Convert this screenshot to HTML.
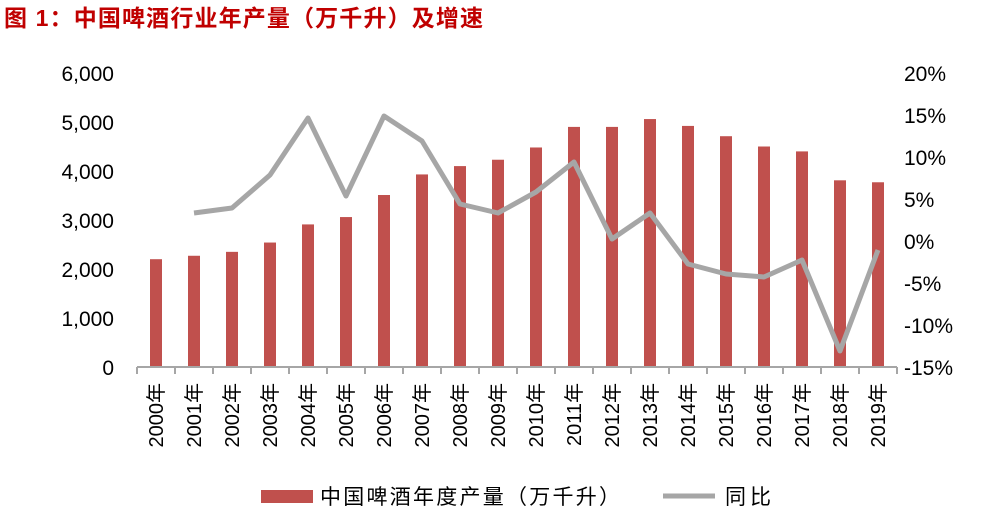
<!DOCTYPE html>
<html><head><meta charset="utf-8"><style>
body{margin:0;background:#fff;width:992px;height:508px;overflow:hidden}
</style></head><body>
<svg width="992" height="508" xmlns="http://www.w3.org/2000/svg" font-family="'Liberation Sans','Noto Sans CJK SC',sans-serif">
<text x="4" y="26" font-size="23" font-weight="bold" fill="#c00000" textLength="479" lengthAdjust="spacing">图  1：中国啤酒行业年产量（万千升）及增速</text>
<g font-size="21" fill="#000" text-anchor="end">
<text x="114" y="81">6,000</text><text x="114" y="130">5,000</text><text x="114" y="179">4,000</text>
<text x="114" y="228">3,000</text><text x="114" y="277">2,000</text><text x="114" y="326">1,000</text><text x="114" y="375">0</text>
</g>
<g font-size="21" fill="#000" text-anchor="start">
<text x="904" y="81">20%</text><text x="904" y="123">15%</text><text x="904" y="165">10%</text>
<text x="904" y="207">5%</text><text x="904" y="249">0%</text><text x="904" y="291">-5%</text>
<text x="904" y="333">-10%</text><text x="904" y="375">-15%</text>
</g>
<g id="bars" fill="#c0504d"></g>
<line x1="137" y1="367" x2="897" y2="367" stroke="#a6a6a6" stroke-width="2"/>
<g id="ticks" stroke="#a6a6a6" stroke-width="2"></g>
<polyline id="ln" fill="none" stroke="#a6a6a6" stroke-width="5" stroke-linejoin="round"/>
<g id="lbl" font-size="20" fill="#000"></g>
<rect x="261" y="490" width="52" height="13" fill="#c0504d"/>
<text x="320" y="504" font-size="21" textLength="300" lengthAdjust="spacing">中国啤酒年度产量（万千升）</text>
<line x1="663" y1="496" x2="715" y2="496" stroke="#a6a6a6" stroke-width="5"/>
<text x="725" y="504" font-size="21" textLength="46" lengthAdjust="spacing">同比</text>
<script>
var v=[2200,2270,2350,2540,2910,3060,3510,3930,4100,4230,4480,4900,4900,5060,4920,4710,4500,4400,3810,3770];
var ly=[null,213,208,175,118,196,116,141,204,213,192,162,239,213,264,274,277,260,351,250];
var ns="http://www.w3.org/2000/svg",b=document.getElementById('bars'),t=document.getElementById('ticks'),l=document.getElementById('lbl'),pts=[];
for(var i=0;i<20;i++){var cx=137+19+38*i;var h=v[i]*0.049;
var r=document.createElementNS(ns,'rect');r.setAttribute('x',cx-6);r.setAttribute('y',367-h);r.setAttribute('width',12);r.setAttribute('height',h);b.appendChild(r);
var k=document.createElementNS(ns,'line');k.setAttribute('x1',137+38*i);k.setAttribute('x2',137+38*i);k.setAttribute('y1',367);k.setAttribute('y2',374);t.appendChild(k);
var tx=document.createElementNS(ns,'text');tx.setAttribute('transform','translate('+(cx+7)+',383) rotate(-90)');tx.setAttribute('text-anchor','end');tx.textContent=(2000+i)+'年';l.appendChild(tx);
if(ly[i]!==null)pts.push(cx+','+ly[i]);}
var k=document.createElementNS(ns,'line');k.setAttribute('x1',897);k.setAttribute('x2',897);k.setAttribute('y1',367);k.setAttribute('y2',374);t.appendChild(k);
document.getElementById('ln').setAttribute('points',pts.join(' '));
</script>
</svg>
</body></html>
